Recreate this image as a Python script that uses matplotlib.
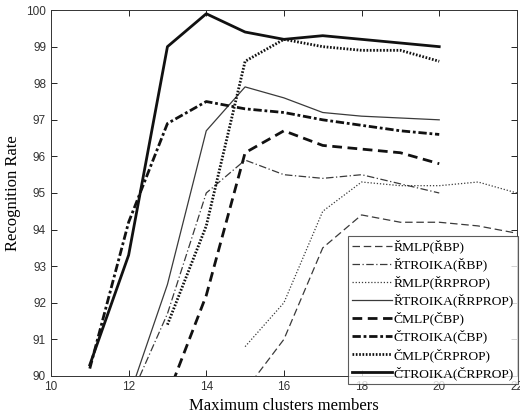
import matplotlib
matplotlib.use("Agg")
import matplotlib.pyplot as plt

# cluster sizes for each series
x_r_bp = [15, 16, 17, 18, 19, 20, 21, 22]
x_r_rprop = [15, 16, 17, 18, 19, 20, 21, 22]
x_main = [11, 12, 13, 14, 15, 16, 17, 18, 19, 20]
x_c_bp = [13, 14, 15, 16, 17, 18, 19, 20]

rmlp_rbp = [89.6, 91.0, 93.5, 94.4, 94.2, 94.2, 94.1, 93.9]
rtroika_rbp = [None, 89.3, 91.7, 95.0, 95.9, 95.5, 95.4, 95.5, 95.25, 95.0]
rmlp_rrprop = [90.8, 92.0, 94.5, 95.3, 95.2, 95.2, 95.3, 95.0]
rtroika_rrprop = [None, 89.4, 92.5, 96.7, 97.9, 97.6, 97.2, 97.1, 97.05, 97.0]
cmlp_cbp = [89.45, 92.2, 96.1, 96.7, 96.3, 96.2, 96.1, 95.8]
ctroika_cbp = [90.2, 94.2, 96.9, 97.5, 97.3, 97.2, 97.0, 96.85, 96.7, 96.6]
cmlp_crprop = [None, None, 91.4, 94.1, 98.6, 99.2, 99.0, 98.9, 98.9, 98.6]
ctroika_crprop = [90.3, 93.3, 99.0, 99.9, 99.4, 99.2, 99.3, 99.2, 99.1, 99.0]

labels = ["ŘMLP(ŘBP)", "ŘTROIKA(ŘBP)", "ŘMLP(ŘRPROP)", "ŘTROIKA(ŘRPROP)",
          "ČMLP(ČBP)", "ČTROIKA(ČBP)", "ČMLP(ČRPROP)", "ČTROIKA(ČRPROP)"]


def clean(xs, ys):
    pts = [(a, b) for a, b in zip(xs, ys) if b is not None]
    return [p[0] for p in pts], [p[1] for p in pts]


fig = plt.figure(figsize=(5.2, 4.2), dpi=100)
ax = fig.add_axes([0.098, 0.105, 0.896, 0.871])

thin = "#3a3a3a"
dark = "#111111"
ax.plot(*clean(x_r_bp, rmlp_rbp), color=thin, lw=0.9, ls=(0, (6, 3)), label=labels[0])
ax.plot(*clean(x_main, rtroika_rbp), color=thin, lw=0.9, ls=(0, (6, 2, 1, 2)), label=labels[1])
ax.plot(*clean(x_r_rprop, rmlp_rrprop), color=thin, lw=0.9, ls=(0, (1, 1.5)), label=labels[2])
ax.plot(*clean(x_main, rtroika_rrprop), color=thin, lw=0.9, ls="-", label=labels[3])
ax.plot(*clean(x_c_bp, cmlp_cbp), color=dark, lw=2.0, ls=(0, (3.5, 2)), label=labels[4])
ax.plot(*clean(x_main, ctroika_cbp), color=dark, lw=2.0, ls=(0, (3, 1, 1, 1)), label=labels[5])
ax.plot(*clean(x_main, cmlp_crprop), color=dark, lw=2.0, ls=(0, (0.6, 0.6)), label=labels[6])
ax.plot(*clean(x_main, ctroika_crprop), color=dark, lw=2.0, ls="-", label=labels[7])

ax.set_xlim(10, 22)
ax.set_ylim(90, 100)
ax.set_xticks(range(10, 23, 2))
ax.set_yticks(range(90, 101))
ax.tick_params(direction="in", top=True, right=True, labelsize=8.5,
               labelcolor="#333333", length=4, width=0.6)
for lbl in ax.get_xticklabels() + ax.get_yticklabels():
    lbl.set_family("Liberation Sans")
for s in ax.spines.values():
    s.set_linewidth(0.7)
    s.set_color("#333333")

ax.set_xlabel("Maximum clusters members", family="Liberation Serif", fontsize=12, labelpad=4)
ax.set_ylabel("Recognition Rate", family="Liberation Serif", fontsize=12, labelpad=4)

leg = ax.legend(loc="lower left", bbox_to_anchor=(0.669, 0.086), bbox_transform=fig.transFigure,
                prop={"family": "Liberation Serif", "size": 9.7}, frameon=True, fancybox=False,
                borderpad=0.3, labelspacing=0.32, handlelength=3.0, handletextpad=0.1,
                borderaxespad=0)
leg.get_frame().set_edgecolor("#333333")
leg.get_frame().set_linewidth(0.8)
leg.set_clip_on(False)

fig.savefig("out.png", dpi=100)
